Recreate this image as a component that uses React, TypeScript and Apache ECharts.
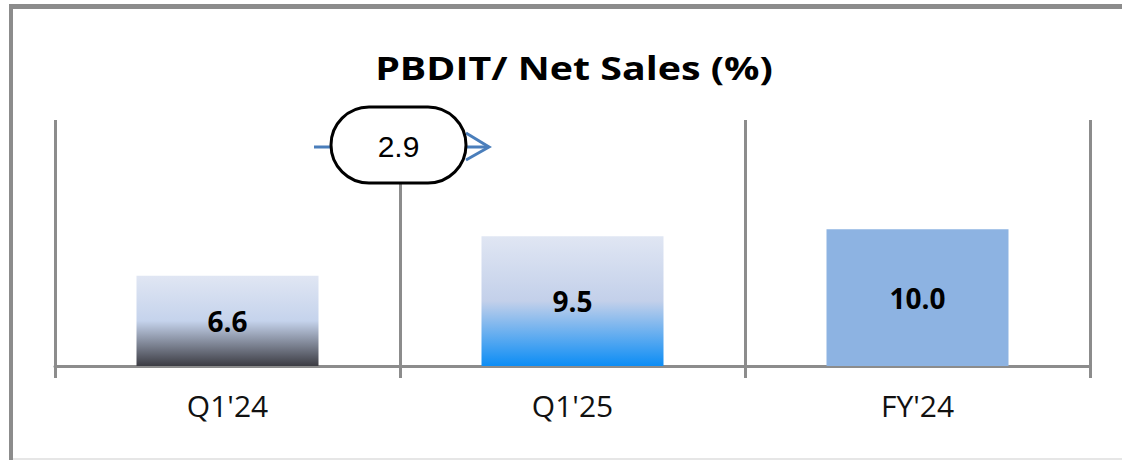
import React, { useEffect, useRef } from "react";
import * as echarts from "echarts";

const categories = ["Q1'24", "Q1'25", "FY'24"];
const values = [6.6, 9.5, 10.0];
const changeValue = [2.9];
const titleText = "PBDIT/ Net Sales (%)";

const GRID_LEFT = 55;
const GRID_RIGHT = 32;
const GRID_TOP = 120;
const GRID_BOTTOM = 94;
const GRAY = "#8c8c8c";

export default function App() {
  const ref = useRef<HTMLDivElement>(null);
  useEffect(() => {
    if (!ref.current) return;
    const chart = echarts.init(ref.current, null, { renderer: "svg" });
    const barColors = [
      new echarts.graphic.LinearGradient(0, 0, 0, 1, [
        { offset: 0, color: "#e0e6f3" },
        { offset: 0.5, color: "#c5d3ec" },
        { offset: 1, color: "#3c3c43" },
      ]),
      new echarts.graphic.LinearGradient(0, 0, 0, 1, [
        { offset: 0, color: "#e0e6f3" },
        { offset: 0.5, color: "#c3d0ea" },
        { offset: 1, color: "#0c8df5" },
      ]),
      "#8db3e2",
    ];
    const plotW = 1122 - GRID_LEFT - GRID_RIGHT;
    const boundaryX = GRID_LEFT + plotW / 3;
    const cy = 146;
    chart.setOption({
      animation: false,
      backgroundColor: "#ffffff",
      grid: { left: GRID_LEFT, right: GRID_RIGHT, top: GRID_TOP, bottom: GRID_BOTTOM },
      xAxis: {
        type: "category",
        data: categories,
        boundaryGap: true,
        axisLine: { show: true, lineStyle: { color: GRAY, width: 3 } },
        axisTick: { show: true, length: 12, lineStyle: { color: GRAY, width: 3 } },
        splitLine: { show: true, interval: 0, lineStyle: { color: GRAY, width: 3 } },
        axisLabel: {
          fontFamily: "Open Sans",
          fontSize: 30,
          color: "#111111",
          margin: 24,
        },
      },
      yAxis: {
        type: "value",
        min: 0,
        max: 18,
        show: false,
        splitLine: { show: false },
      },
      series: [
        {
          type: "bar",
          data: values.map((v, i) => ({ value: v, itemStyle: { color: barColors[i] } })),
          barWidth: 182,
          label: {
            show: true,
            position: "inside",
            formatter: (p: any) => Number(p.value).toFixed(1),
            fontFamily: "Open Sans",
            fontWeight: "bold",
            fontSize: 28,
            color: "#000000",
          },
        },
      ],
      graphic: [
        { type: "rect", z: 50, shape: { x: 9, y: 4, width: 1113, height: 5 }, style: { fill: GRAY } },
        { type: "rect", z: 50, shape: { x: 9, y: 4, width: 4, height: 456 }, style: { fill: GRAY } },
        { type: "rect", z: 50, shape: { x: 13, y: 458, width: 1109, height: 2 }, style: { fill: "#e6e6e6" } },
        {
          type: "text",
          z: 50,
          x: 574,
          y: 68,
          scaleX: 1.23,
          style: {
            text: titleText,
            fontFamily: "Open Sans",
            fontWeight: "bold",
            fontSize: 32,
            fill: "#000000",
            textAlign: "center",
            textVerticalAlign: "middle",
          },
        },
        {
          type: "line",
          z: 60,
          shape: { x1: boundaryX - 86, y1: cy + 1, x2: boundaryX + 88, y2: cy + 1 },
          style: { stroke: "#4a7ebb", lineWidth: 3 },
        },
        {
          type: "polyline",
          z: 60,
          shape: { points: [[boundaryX + 66, cy - 13], [boundaryX + 89, cy + 1], [boundaryX + 66, cy + 14]] },
          style: { stroke: "#4a7ebb", lineWidth: 3, fill: null },
        },
        {
          type: "rect",
          z: 70,
          shape: { x: boundaryX - 69, y: 107, width: 135, height: 76, r: 38 },
          style: { fill: "#ffffff", stroke: "#000000", lineWidth: 3 },
        },
        {
          type: "text",
          z: 80,
          x: boundaryX - 1.5,
          y: cy,
          style: {
            text: changeValue[0].toFixed(1),
            fontFamily: "Liberation Sans",
            fontSize: 30,
            fill: "#000000",
            textAlign: "center",
            textVerticalAlign: "middle",
          },
        },
      ],
    });
    return () => chart.dispose();
  }, []);
  return (
    <div
      ref={ref}
      style={{ position: "fixed", left: 0, top: 0, width: 1122, height: 460 }}
    />
  );
}
